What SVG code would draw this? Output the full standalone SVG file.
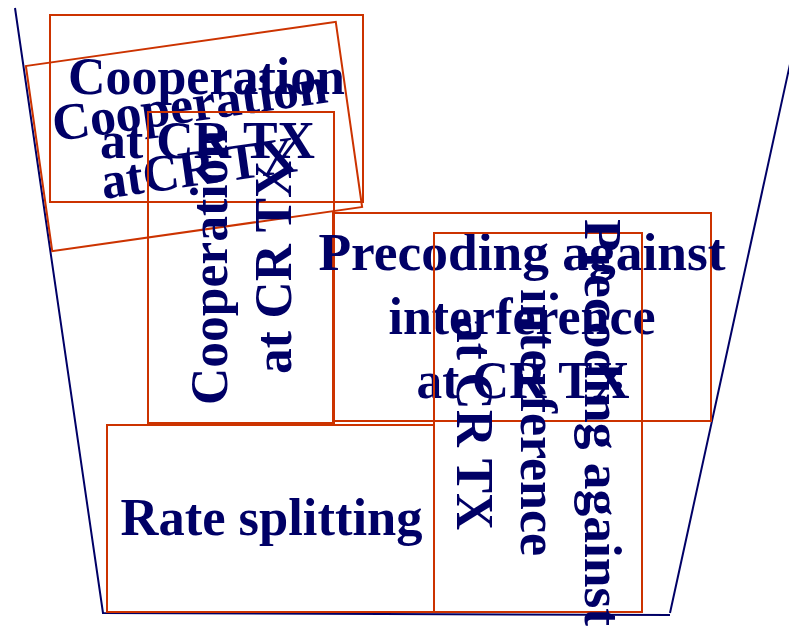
<svg xmlns="http://www.w3.org/2000/svg" width="789" height="628" viewBox="0 0 789 628">
  <style>
    .box { fill: none; stroke: #CC3300; stroke-width: 2; }
    .lbl { font-family: "Liberation Serif", "DejaVu Serif", serif; font-weight: bold; font-size: 52px; fill: #000066; text-anchor: middle; }
    .bucket { fill: none; stroke: #000066; stroke-width: 2; stroke-linejoin: miter; }
  </style>
  <rect width="789" height="628" fill="#ffffff"/>
  <g id="bucket">
    <polyline class="bucket" points="15,8 103,613 670,615"/>
    <line class="bucket" x1="670" y1="613" x2="804" y2="0"/>
  </g>
  <g id="coop-a">
    <rect class="box" x="50" y="15" width="313" height="187"/>
    <text class="lbl" x="206.5" y="93.5" textLength="277" lengthAdjust="spacingAndGlyphs">Cooperation</text>
    <text class="lbl" x="207.5" y="157.5" textLength="215" lengthAdjust="spacingAndGlyphs">at CR TX</text>
  </g>
  <g id="coop-b" transform="rotate(-8.1 194 136.5)">
    <rect class="box" x="37.5" y="43" width="313" height="187"/>
    <text class="lbl" x="194" y="121.5" textLength="277" lengthAdjust="spacingAndGlyphs">Cooperation</text>
    <text class="lbl" x="194" y="185.5" textLength="197" lengthAdjust="spacingAndGlyphs">atCR TX</text>
  </g>
  <g id="coop-c">
    <rect class="box" x="148" y="112" width="186" height="311"/>
    <g transform="rotate(-90 242 267.5)">
      <text class="lbl" x="242" y="252.5" textLength="275" lengthAdjust="spacingAndGlyphs">Cooperation</text>
      <text class="lbl" x="242" y="316.5" textLength="213" lengthAdjust="spacingAndGlyphs">at CR TX</text>
    </g>
  </g>
  <g id="precoding-d">
    <rect class="box" x="333" y="213" width="378" height="208"/>
    <text class="lbl" x="522" y="270" textLength="407" lengthAdjust="spacingAndGlyphs">Precoding against</text>
    <text class="lbl" x="522" y="334" textLength="267" lengthAdjust="spacingAndGlyphs">interference</text>
    <text class="lbl" x="523" y="398" textLength="213" lengthAdjust="spacingAndGlyphs">at CR TX</text>
  </g>
  <g id="precoding-e">
    <rect class="box" x="434" y="233" width="208" height="379"/>
    <g transform="rotate(90 538 422.5)">
      <text class="lbl" x="538" y="375.5" textLength="407" lengthAdjust="spacingAndGlyphs">Precoding against</text>
      <text class="lbl" x="538" y="439.5" textLength="267" lengthAdjust="spacingAndGlyphs">interference</text>
      <text class="lbl" x="539" y="503.5" textLength="213" lengthAdjust="spacingAndGlyphs">at CR TX</text>
    </g>
  </g>
  <g id="rate-splitting">
    <rect class="box" x="107" y="425" width="327" height="187"/>
    <text class="lbl" x="271.5" y="535" textLength="302" lengthAdjust="spacingAndGlyphs">Rate splitting</text>
  </g>
</svg>
